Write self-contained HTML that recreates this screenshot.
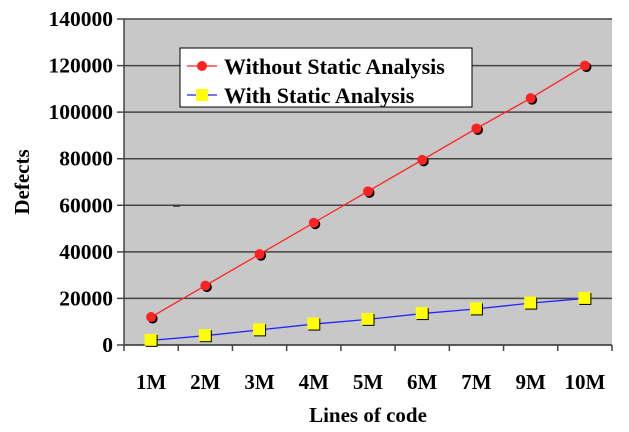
<!DOCTYPE html>
<html><head><meta charset="utf-8"><style>
body{margin:0;background:#fff;}
svg{display:block;font-family:"Liberation Serif",serif;font-weight:bold;}
</style></head><body>
<svg id="c" width="629" height="432"></svg>
<script>
const categories=["1M","2M","3M","4M","5M","6M","7M","9M","10M"];
const withoutSA=[12000,25500,39000,52500,66000,79500,93000,106000,120000];
const withSA=[2000,4000,6500,9000,11000,13500,15500,18000,20000];
const yTicks=[0,20000,40000,60000,80000,100000,120000,140000];
const L=124,R=612,T=19,B=345,yMax=140000;
const svg=document.getElementById('c');
const NS="http://www.w3.org/2000/svg";
function mk(t,a,p){const e=document.createElementNS(NS,t);for(const k in a)e.setAttribute(k,a[k]);(p||svg).appendChild(e);return e;}
const y=v=>B-(v/yMax)*(B-T);
const bw=(R-L)/categories.length;
const x=i=>L+bw*(i+0.5);
const bg=mk('rect',{x:L,y:T,width:R-L,height:B-T,fill:'#c8c8c8'});


yTicks.forEach(v=>{
 const g=mk('line',{x1:L-7,x2:R,y1:y(v),y2:y(v),stroke:'#444','stroke-width':1.5});
 
 
 const t=mk('text',{x:113,y:y(v)+7,'text-anchor':'end','font-size':21.5});
 t.textContent=v;
 
 
});
mk('line',{x1:L,x2:L,y1:T,y2:B,stroke:'#444','stroke-width':1.5});
mk('line',{x1:L,x2:R,y1:B,y2:B,stroke:'#444','stroke-width':1.5});
for(let i=0;i<=categories.length;i++)mk('line',{x1:L+bw*i,x2:L+bw*i,y1:B,y2:B+6,stroke:'#444','stroke-width':1.5});
categories.forEach((c,i)=>{
 const t=mk('text',{x:x(i),y:389,'text-anchor':'middle','font-size':21});
 t.textContent=c;
 
 
});
function series(vals,color,shape,name){
 const g=mk('g',{});
 
 
 mk('polyline',{points:vals.map((v,i)=>x(i)+','+y(v)).join(' '),fill:'none',stroke:color,'stroke-width':1.3},g);
 vals.forEach((v,i)=>{
  let m;
  if(shape==='c'){mk('circle',{cx:x(i)+1.5,cy:y(v)+1.5,r:5,fill:'#000'},g);m=mk('circle',{cx:x(i),cy:y(v),r:5,fill:'#f22'},g);}
  else{mk('rect',{x:x(i)-5.5,y:y(v)-5.5,width:12,height:12,fill:'#000'},g);m=mk('rect',{x:x(i)-6.5,y:y(v)-6.5,width:12,height:12,fill:'#ff0'},g);}
  
  
 });
}
series(withoutSA,'#f22','c','series-without-static-analysis');
series(withSA,'#22f','s','series-with-static-analysis');
const lg=mk('g',{});


mk('rect',{x:180,y:48,width:292,height:59,fill:'#fff',stroke:'#000','stroke-width':1},lg);
mk('line',{x1:187,x2:217,y1:66,y2:66,stroke:'#f22','stroke-width':1.3},lg);
mk('circle',{cx:202,cy:66,r:5,fill:'#f22'},lg);
mk('line',{x1:187,x2:217,y1:95,y2:95,stroke:'#22f','stroke-width':1.3},lg);
mk('rect',{x:196,y:89,width:12,height:12,fill:'#ff0'},lg);
const l1=mk('text',{x:224,y:74,'font-size':22},lg);l1.textContent='Without Static Analysis';

const l2=mk('text',{x:224,y:103,'font-size':22},lg);l2.textContent='With Static Analysis';

mk('line',{x1:173,x2:180,y1:206,y2:206,stroke:'#333','stroke-width':1.5});
const xt=mk('text',{x:368,y:422,'text-anchor':'middle','font-size':21});xt.textContent='Lines of code';

const yt=mk('text',{x:0,y:0,'text-anchor':'middle','font-size':21,transform:'translate(29,182) rotate(-90)'});yt.textContent='Defects';

</script>
</body></html>
